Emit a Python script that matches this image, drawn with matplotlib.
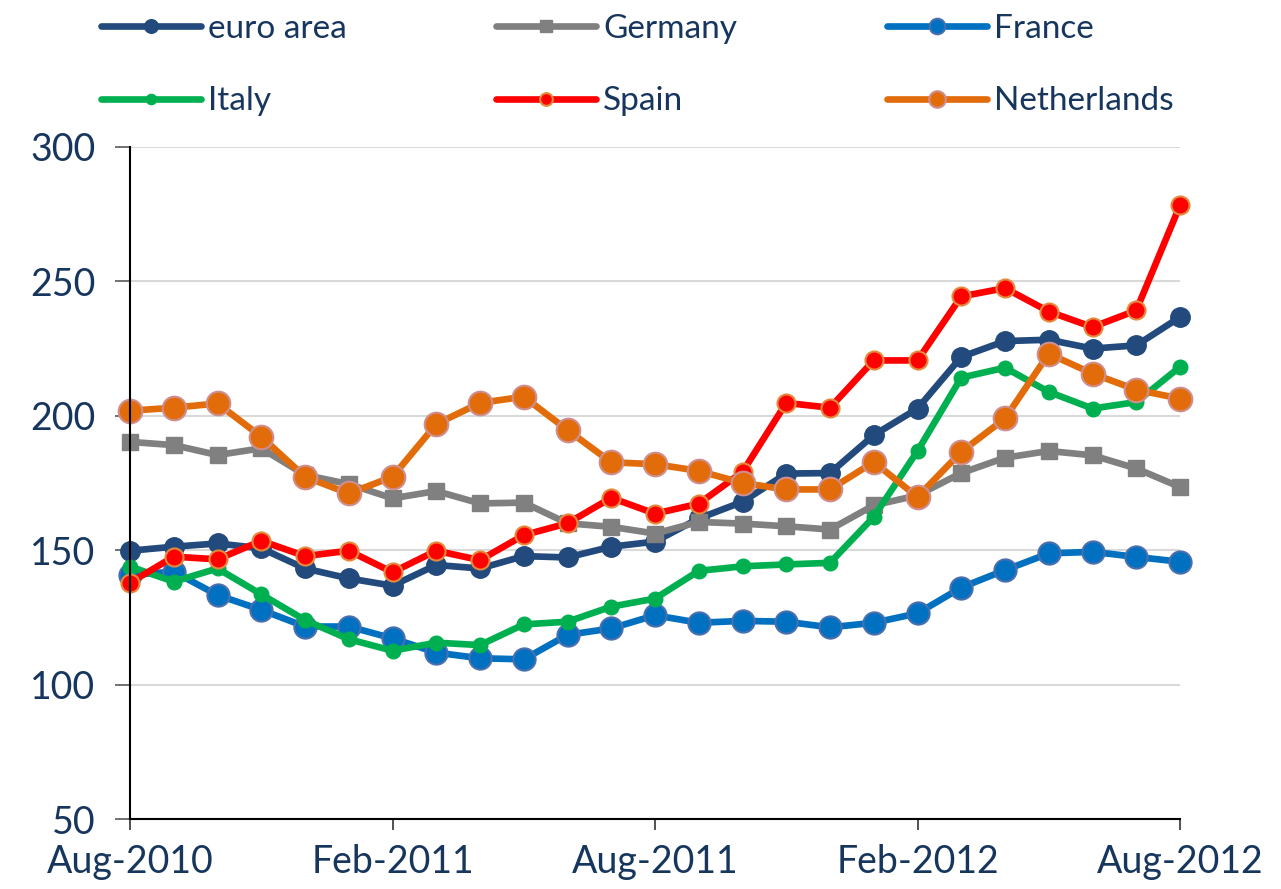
import matplotlib.pyplot as plt

# monthly index values, Aug-2010 .. Aug-2012
months = ['Aug-2010', 'Sep-2010', 'Oct-2010', 'Nov-2010', 'Dec-2010', 'Jan-2011',
          'Feb-2011', 'Mar-2011', 'Apr-2011', 'May-2011', 'Jun-2011', 'Jul-2011',
          'Aug-2011', 'Sep-2011', 'Oct-2011', 'Nov-2011', 'Dec-2011', 'Jan-2012',
          'Feb-2012', 'Mar-2012', 'Apr-2012', 'May-2012', 'Jun-2012', 'Jul-2012',
          'Aug-2012']

euro_area = [149.8, 151.3, 152.5, 150.7, 143.2, 139.5, 136.8, 144.5, 143.2, 147.8,
             147.3, 151.3, 153.2, 161.8, 168.0, 178.5, 178.7, 192.8, 202.7, 221.9,
             227.8, 228.3, 225.0, 226.2, 236.7]
germany = [190.3, 189.1, 185.4, 187.9, 178.0, 174.6, 169.3, 172.0, 167.4, 167.7,
           160.0, 158.7, 156.2, 160.5, 159.9, 158.9, 157.7, 166.7, 170.4, 178.7,
           184.4, 186.9, 185.3, 180.4, 173.5]
france = [140.8, 142.0, 133.3, 127.8, 121.6, 121.6, 117.2, 111.9, 109.8, 109.4,
          118.5, 120.9, 125.8, 123.0, 123.7, 123.4, 121.3, 123.0, 126.5, 136.1,
          142.6, 148.8, 149.4, 147.5, 145.7]
italy = [143.9, 138.3, 143.2, 133.6, 124.0, 116.9, 112.6, 115.6, 114.7, 122.4,
         123.4, 129.0, 132.0, 142.3, 144.0, 144.7, 145.3, 162.4, 186.9, 214.2,
         217.9, 208.9, 202.7, 205.1, 218.2]
spain = [137.9, 147.6, 146.6, 153.5, 147.8, 149.8, 141.8, 149.8, 146.3, 155.6,
         160.0, 169.5, 163.6, 167.3, 179.1, 204.8, 203.0, 220.6, 220.6, 244.4,
         247.5, 238.8, 233.0, 239.2, 278.3]
netherlands = [201.9, 203.0, 204.6, 192.2, 177.3, 171.1, 177.3, 196.9, 204.8, 207.1,
               194.7, 182.7, 182.0, 179.5, 175.0, 172.6, 172.6, 182.8, 169.8, 186.6,
               199.0, 223.1, 215.7, 209.7, 206.4]

text_col = '#17365D'
plt.rcParams['font.family'] = ['Lato', 'DejaVu Sans']

fig = plt.figure(figsize=(12.81, 8.89), dpi=100)
ax = fig.add_axes([130 / 1281, 70 / 889, 1050 / 1281, 672 / 889])

x = list(range(len(months)))
series = [
    ('euro area', euro_area, '#234A7C', 'o', 14, '#234A7C', 1),
    ('Germany', germany, '#808080', 's', 12, '#808080', 1),
    ('France', france, '#0070C0', 'o', 16, '#4A6FAE', 1.5),
    ('Italy', italy, '#00B050', 'o', 10.5, '#00B050', 1),
    ('Spain', spain, '#FF0000', 'o', 13, '#E48A3C', 1.5),
    ('Netherlands', netherlands, '#E36C0A', 'o', 17, '#CF8E8E', 1.5),
]
lines = {}
for name, vals, col, mk, ms, edge, mew in series:
    ln, = ax.plot(x, vals, color=col, lw=4.8, marker=mk, ms=ms, mfc=col, mec=edge,
                  mew=mew, label=name, clip_on=False, solid_capstyle='round')
    lines[name] = ln

ax.set_xlim(0, 24)
ax.set_ylim(50, 300)
ax.set_yticks([50, 100, 150, 200, 250, 300])
ax.set_xticks([0, 6, 12, 18, 24])
ax.set_xticklabels([months[i] for i in [0, 6, 12, 18, 24]])
ax.grid(axis='y', color='#D9D9D9', lw=1.5)
ax.set_axisbelow(True)
for s in ['top', 'right']:
    ax.spines[s].set_visible(False)
ax.spines['left'].set_linewidth(1.5)
ax.spines['bottom'].set_linewidth(1.5)
ax.tick_params(axis='y', length=11, width=1.2, color='#595959', pad=14,
               labelsize=27, labelcolor=text_col)
ax.tick_params(axis='x', length=8, width=1.2, color='#333333', pad=10,
               labelsize=27, labelcolor=text_col)

# legend filled column by column, so order gives rows: euro/Germany/France, Italy/Spain/Netherlands
order = ['euro area', 'Italy', 'Germany', 'Spain', 'France', 'Netherlands']
leg = fig.legend([lines[n] for n in order], order, loc='upper left',
                 bbox_to_anchor=(71 / 1281, 1.018), ncol=3,
                 frameon=False, fontsize=24, handlelength=3.0, handletextpad=0.2,
                 columnspacing=4.5, labelspacing=1.27, markerscale=0.7)
for t in leg.get_texts():
    t.set_color(text_col)

fig.savefig('out.png', dpi=100)
